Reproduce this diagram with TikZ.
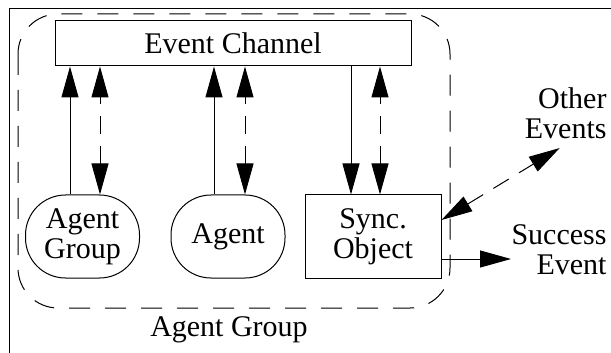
\documentclass[tikz,border=0pt]{standalone}
\usepackage{fontspec}
\setmainfont{Liberation Serif}
\usetikzlibrary{arrows.meta,calc}
\tikzset{
  box/.style={draw, minimum height=41.5pt, inner sep=0pt, align=center},
  blob/.style={box, rounded corners=20pt, minimum width=57pt},
  tip/.style={-{Triangle[length=15.5pt,width=8.5pt]}},
  twotip/.style={{Triangle[length=15.5pt,width=8.5pt]}-{Triangle[length=15.5pt,width=8.5pt]}, dash pattern=on 9pt off 6pt},
}
\begin{document}
\begin{tikzpicture}[x=0.5pt,y=-0.5pt,line width=0.5pt,font=\fontsize{15}{15}\selectfont]
	\useasboundingbox (0,0) rectangle (611,353);
	% frame
	\draw (9,360) -- (9,9) -- (620,9);
	% agent group
	\draw[dash pattern=on 10.5pt off 7.5pt, rounded corners=20pt] (18,14) rectangle (450,308);
	\node (lbl) at (229,330) {Agent Group};
	\node[draw, minimum width=178pt, minimum height=22.5pt] (chan) at (233,43.5) {Event Channel};
	\node[blob] (grp) at (82.5,236.5) {Agent\\Group};
	\node[blob] (agt) at (228,236.5) {Agent};
	\node[box, minimum width=68pt] (sync) at (373,236.5) {Sync.\\Object};
	\node[anchor=east, inner sep=0pt, align=right] (oth) at (607,113) {Other\\Events};
	\node[anchor=east, inner sep=0pt, align=right] (suc) at (607,250) {Success\\Event};
	% event flow
	\foreach \n/\a/\b in {grp/-12.5/17.5, agt/-14/17, sync/-22/7} {
		\coordinate (\n-a) at ($(\n.north)+(\a,0)$);
		\coordinate (\n-b) at ($(\n.north)+(\b,0)$);
		\draw[twotip] (\n-b) -- (\n-b |- chan.south);
	}
	\draw[tip] (grp-a) -- (grp-a |- chan.south);
	\draw[tip] (agt-a) -- (agt-a |- chan.south);
	\draw[tip] (sync-a |- chan.south) -- (sync-a);
	\coordinate (oth-in) at ($(sync.east)+(0,-16.5)$);
	\coordinate (oth-out) at ($(oth.south)+(-6,9)$);
	\draw[twotip] (oth-in) -- (oth-out);
	\coordinate (suc-in) at ($(sync.east)+(-1,22.5)$);
	\draw[tip] (suc-in) -- (suc-in -| suc.west);
\end{tikzpicture}
\end{document}
